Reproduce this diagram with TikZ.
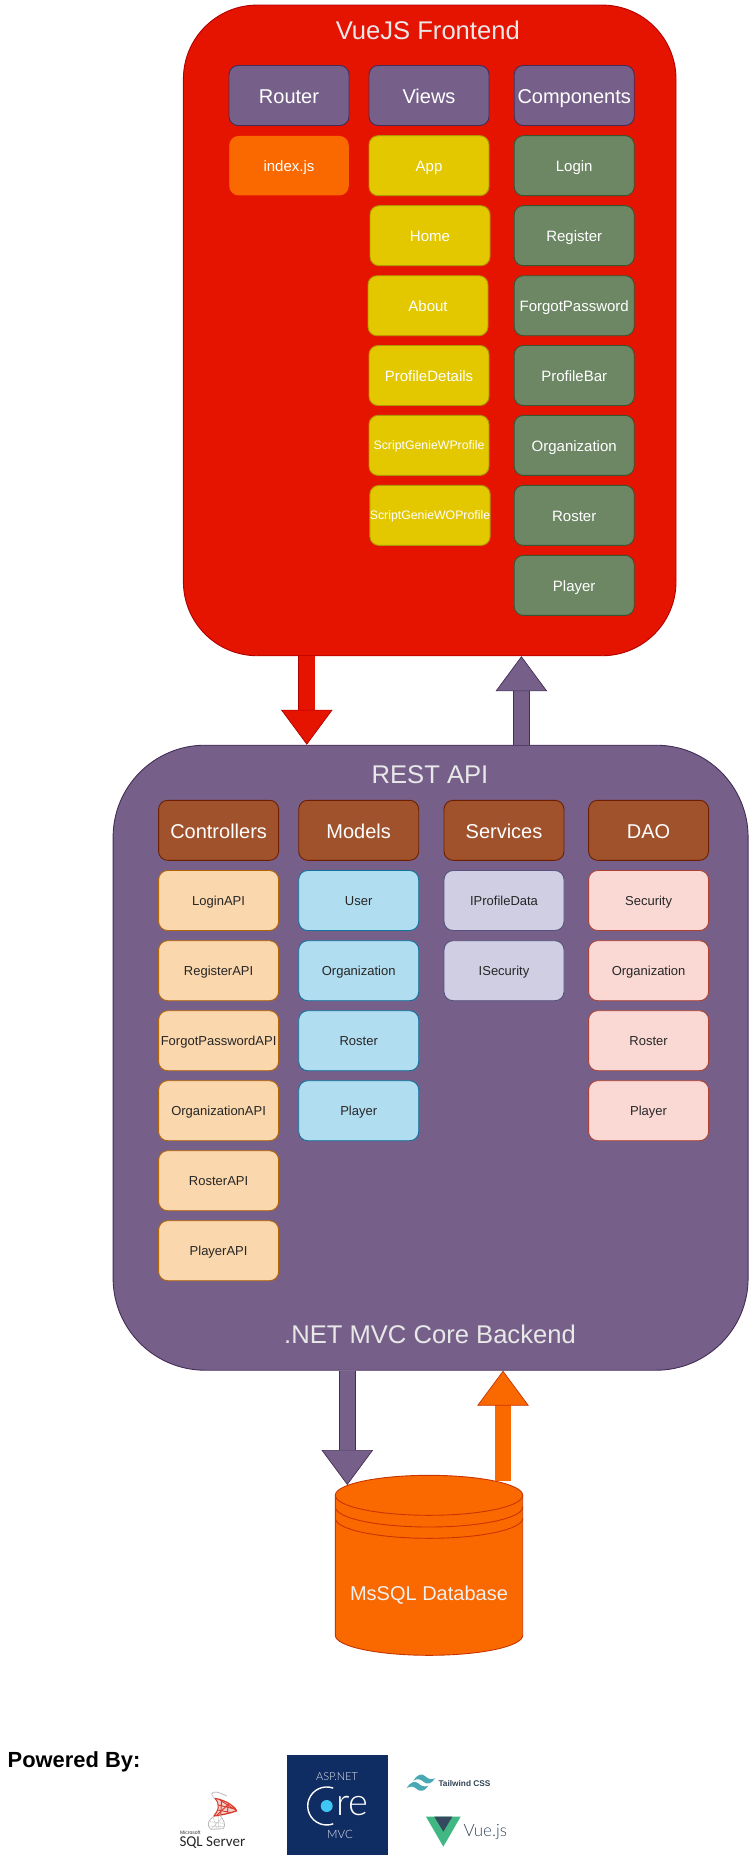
\documentclass[tikz,border=0pt]{standalone}
\usepackage{fontspec}
\setmainfont{Liberation Sans}
\newfontfamily\logofont{Carlito}
\newfontfamily\corefont{Lato Light}
\usetikzlibrary{arrows.meta}

\definecolor{redfill}{HTML}{E51400}
\definecolor{redline}{HTML}{B20000}
\definecolor{purplefill}{HTML}{76608A}
\definecolor{purpleline}{HTML}{432D57}
\definecolor{orangefill}{HTML}{FA6800}
\definecolor{orangeline}{HTML}{C73500}
\definecolor{yellowfill}{HTML}{E3C800}
\definecolor{yellowline}{HTML}{B09500}
\definecolor{greenfill}{HTML}{6D8764}
\definecolor{greenline}{HTML}{3A5431}
\definecolor{brownfill}{HTML}{A0522D}
\definecolor{brownline}{HTML}{6D1F00}
\definecolor{peachfill}{HTML}{FAD7AC}
\definecolor{peachline}{HTML}{B46504}
\definecolor{bluefill}{HTML}{B1DDF0}
\definecolor{blueline}{HTML}{10739E}
\definecolor{lilacfill}{HTML}{D0CEE2}
\definecolor{lilacline}{HTML}{56517E}
\definecolor{pinkfill}{HTML}{FAD9D5}
\definecolor{pinkline}{HTML}{AE4132}
\definecolor{titletext}{HTML}{E8E8E8}
\definecolor{corenavy}{HTML}{0F2C63}
\definecolor{corecyan}{HTML}{3FC6F5}
\definecolor{windteal}{HTML}{4AA8B5}
\definecolor{vuegreen}{HTML}{41B883}
\definecolor{vuedark}{HTML}{35495E}
\definecolor{sqlred}{HTML}{D8392B}

\tikzset{
    box/.style={rectangle,rounded corners=9pt,draw,line width=0.9pt,minimum width=120pt,minimum height=60pt,inner sep=0pt,outer sep=0pt,align=center},
    head/.style={box,text=white,font=\fontsize{20}{24}\selectfont,text height=15.6pt,text depth=0pt},
    item/.style={box,text=white,font=\fontsize{15}{18}\selectfont,text height=11.2pt,text depth=0pt},
    apiitem/.style={box,text=black!85,font=\fontsize{13}{16}\selectfont,text height=9pt,text depth=0pt},
    headpurple/.style={head,fill=purplefill,draw=purpleline},
    headbrown/.style={head,fill=brownfill,draw=brownline},
    router/.style={item,fill=orangefill,draw=orangefill,minimum width=118.6pt,minimum height=58.6pt},
    view/.style={item,fill=yellowfill,draw=yellowline},
    comp/.style={item,fill=greenfill,draw=greenline},
    ctrl/.style={apiitem,fill=peachfill,draw=peachline},
    model/.style={apiitem,fill=bluefill,draw=blueline},
    service/.style={apiitem,fill=lilacfill,draw=lilacline},
    dao/.style={apiitem,fill=pinkfill,draw=pinkline},
    title/.style={anchor=base,text=titletext,font=\fontsize{25.6}{30}\selectfont,inner sep=0pt},
    bigarrow/.style n args={2}{line width=0.7pt,draw=#2,double=#1,double distance=15.5pt,
        -{Triangle[length=35pt,width=51.6pt,line width=0.7pt,fill=#1,color=#2]}},
    logotext/.style={anchor=base,inner sep=0pt},
    dbline/.style={orangeline,line width=0.9pt},
}

\begin{document}
\begin{tikzpicture}[x=1pt,y=-1pt]
    \useasboundingbox (0,0) rectangle (754,1870);

    % frontend
    \node[rectangle,rounded corners=74pt,draw=redline,fill=redfill,line width=0.9pt,minimum width=492.6pt,minimum height=650.7pt,inner sep=0pt] (frontend) at (429.7,330.4) {};
    \node[title] (frontendtitle) at (427.8,39.5) {VueJS Frontend};

    \node[headpurple] (router) at (289,95.5) {Router};
    \node[headpurple] (views) at (429,95.5) {Views};
    \node[headpurple] (components) at (574.2,95.5) {Components};

    \node[router] (indexjs) at (289,165.7) {index.js};

    \node[view] (app) at (429,165.7) {App};
    \node[view] (home) at (430,235.7) {Home};
    \node[view] (about) at (428,305.7) {About};
    \node[view] (profiledetails) at (429,375.5) {ProfileDetails};
    \node[view,font=\fontsize{12.3}{15}\selectfont,text height=9pt] (genieW) at (429,445.4) {ScriptGenieWProfile};
    \node[view,font=\fontsize{12.3}{15}\selectfont,text height=9pt] (genieWO) at (430,515.4) {ScriptGenieWOProfile};

    \node[comp] (login) at (574.2,165.7) {Login};
    \node[comp] (register) at (574.2,235.7) {Register};
    \node[comp] (forgot) at (574.2,305.7) {ForgotPassword};
    \node[comp] (profilebar) at (574.2,375.5) {ProfileBar};
    \node[comp] (organization) at (574.2,445.4) {Organization};
    \node[comp] (roster) at (574.2,515.4) {Roster};
    \node[comp] (player) at (574.2,585.4) {Player};

    % backend
    \node[rectangle,rounded corners=92pt,draw=purpleline,fill=purplefill,line width=0.9pt,minimum width=635pt,minimum height=625pt,inner sep=0pt] (api) at (430.6,1057.7) {};
    \node[title] (apititle) at (430,783) {REST API};
    \node[title] (backendtitle) at (430,1343.3) {.NET MVC Core Backend};

    \node[headbrown] (controllers) at (218.6,830.3) {Controllers};
    \node[headbrown] (models) at (358.7,830.3) {Models};
    \node[headbrown] (services) at (504,830.3) {Services};
    \node[headbrown] (daos) at (648.6,830.3) {DAO};

    \node[ctrl] (loginapi) at (218.6,900.5) {LoginAPI};
    \node[ctrl] (registerapi) at (218.6,970.7) {RegisterAPI};
    \node[ctrl] (forgotapi) at (218.6,1040.7) {ForgotPasswordAPI};
    \node[ctrl] (organizationapi) at (218.6,1110.7) {OrganizationAPI};
    \node[ctrl] (rosterapi) at (218.6,1180.7) {RosterAPI};
    \node[ctrl] (playerapi) at (218.6,1250.7) {PlayerAPI};

    \node[model] (usermodel) at (358.7,900.5) {User};
    \node[model] (organizationmodel) at (358.7,970.7) {Organization};
    \node[model] (rostermodel) at (358.7,1040.7) {Roster};
    \node[model] (playermodel) at (358.7,1110.7) {Player};

    \node[service] (profiledata) at (504,900.5) {IProfileData};
    \node[service] (isecurity) at (504,970.7) {ISecurity};

    \node[dao] (securitydao) at (648.6,900.5) {Security};
    \node[dao] (organizationdao) at (648.6,970.7) {Organization};
    \node[dao] (rosterdao) at (648.6,1040.7) {Roster};
    \node[dao] (playerdao) at (648.6,1110.7) {Player};

    % database
    \draw[dbline,fill=orangefill] (335.3,1495.3) arc[start angle=180,end angle=0,x radius=93.7pt,y radius=20pt] -- (522.7,1635.3) arc[start angle=0,end angle=-180,x radius=93.7pt,y radius=20pt] -- cycle;
    \draw[dbline] (335.3,1495.3) arc[start angle=180,end angle=360,x radius=93.7pt,y radius=20pt];
    \draw[dbline] (335.3,1507) arc[start angle=180,end angle=360,x radius=93.7pt,y radius=20pt];
    \draw[dbline] (335.3,1518.3) arc[start angle=180,end angle=360,x radius=93.7pt,y radius=20pt];
    \node[title,text=white!94!black,font=\fontsize{20}{24}\selectfont] (dbtitle) at (429,1600) {MsSQL Database};

    % arrows between the layers
    \coordinate (apiin) at (306.8,0);
    \coordinate (frontin) at (521.4,0);
    \coordinate (dbin) at (347.3,1485);
    \coordinate (dbout) at (503,1480.7);
    \draw[bigarrow={redfill}{redline}] (frontend.south -| apiin) -- (api.north -| apiin);
    \draw[bigarrow={purplefill}{purpleline}] (api.north -| frontin) -- (frontend.south -| frontin);
    \draw[bigarrow={purplefill}{purpleline}] (api.south -| dbin) -- (dbin);
    \draw[bigarrow={orangefill}{orangeline}] (dbout) -- (api.south -| dbout);

    % powered by
    \node[anchor=base west,inner sep=0pt,font=\fontsize{21.9}{26}\selectfont\bfseries] (powered) at (7.5,1767) {Powered By:};

    % sql server logo
    \begin{scope}[shift={(170,1790)},x=0.3333pt,y=-0.3333pt]
        \draw[gray!50,line width=0.9pt] (125,12) .. controls (128,2) and (145,5) .. (170,18);
        \draw[gray!50,line width=0.7pt] (125,12) .. controls (125,22) and (135,25) .. (140,30);
        \fill[sqlred!25] (135,25) -- (195,50) -- (202,65) -- (140,80) -- (130,72) .. controls (150,60) and (150,45) .. cycle;
        \draw[sqlred,line width=1.2pt] (135,25) .. controls (160,30) and (185,40) .. (200,62);
        \draw[sqlred,line width=1.2pt] (200,62) .. controls (175,72) and (150,75) .. (132,78);
        \draw[sqlred,line width=1pt] (135,25) .. controls (152,45) and (145,62) .. (132,78);
        \draw[sqlred,line width=0.9pt] (155,32) -- (152,72) (175,40) -- (172,68) (145,45) -- (198,58) (143,60) -- (185,68) (150,30) -- (200,62) (140,76) -- (178,40);
        \draw[gray!55,line width=0.8pt] (132,78) .. controls (115,90) and (108,105) .. (122,118);
        \draw[gray!55,line width=0.8pt] (150,76) .. controls (162,90) and (168,105) .. (160,116) -- (122,118);
        \draw[gray!40,line width=0.6pt] (120,95) -- (160,100) (115,108) -- (163,110) (130,82) -- (140,116) (145,78) -- (145,116) (155,85) -- (125,116);
    \end{scope}
    \node[logotext,anchor=base west,text=black!80,font=\fontsize{5}{6}\selectfont] (sqlmicrosoft) at (180,1834.8) {Microsoft};
    \node[logotext,anchor=base west,text=black!85,font=\logofont\fontsize{15}{18}\selectfont] (sqlserver) at (179.3,1846.7) {SQL Server};

    % asp.net core logo
    \node[rectangle,fill=corenavy,minimum width=100.5pt,minimum height=100pt,inner sep=0pt] (corebox) at (337.7,1805) {};
    \node[logotext,text=white!90!corenavy,font=\corefont\fontsize{11}{13}\selectfont] (coreasp) at (337,1780.7) {ASP.NET};
    \draw[white,line width=1.4pt] (333.2,1788.1) arc[start angle=70,end angle=290,radius=19pt];
    \fill[corecyan] (326.7,1806) circle (6pt);
    \node[logotext,text=white,font=\corefont\fontsize{38}{44}\selectfont] (corere) at (352.5,1815.7) {re};
    \node[logotext,text=white!90!corenavy,font=\corefont\fontsize{11.5}{14}\selectfont] (coremvc) at (340,1838.3) {MVC};

    % tailwind logo
    \begin{scope}[shift={(400,1760)},x=0.3333pt,y=-0.3333pt]
        \fill[windteal] (40,62) .. controls (50,45) and (65,38) .. (75,48) .. controls (83,56) and (92,60) .. (105,55) .. controls (95,72) and (80,75) .. (70,65) .. controls (62,57) and (52,55) .. cycle;
        \fill[windteal] (20,84) .. controls (30,67) and (45,60) .. (55,70) .. controls (63,78) and (72,82) .. (85,77) .. controls (75,94) and (60,97) .. (50,87) .. controls (42,79) and (32,77) .. cycle;
    \end{scope}
    \node[logotext,anchor=base west,text=vuedark!90!black,font=\fontsize{8.3}{10}\selectfont\bfseries] (windtext) at (438.3,1786) {Tailwind CSS};

    % vue logo
    \begin{scope}[shift={(400,1760)},x=0.3333pt,y=-0.3333pt]
        \fill[vuegreen] (78,170) -- (182,170) -- (130,260) -- cycle;
        \fill[vuedark] (103,170) -- (157,170) -- (130,215) -- cycle;
    \end{scope}
    \node[logotext,anchor=base west,text=vuedark,font=\corefont\fontsize{17}{20}\selectfont] (vuetext) at (463.3,1836.7) {Vue.js};
\end{tikzpicture}
\end{document}
